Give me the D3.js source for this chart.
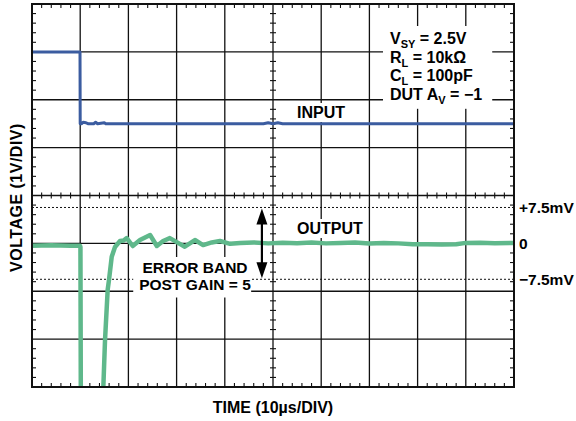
<!DOCTYPE html>
<html>
<head>
<meta charset="utf-8">
<script src="https://cdn.jsdelivr.net/npm/d3@7"></script>
<style>
  body { margin: 0; background: #fff; }
  svg { display: block; }
  text { font-family: "Liberation Sans", Arial, sans-serif; font-weight: bold; fill: #000; }
</style>
</head>
<body>
<div id="chart"></div>
<script>
// time in µs (10µs/div), input in V (1V/div), output in mV after gain (10mV/div)
const inputTime = [0, 9.96, 10.0, 10.3, 10.6, 11.2, 11.6, 12.8, 13.2, 13.6, 15.0, 15.3, 48, 49, 50, 51, 52, 100];
const inputVolts = [3.0, 3.0, 1.5, 1.5, 1.53, 1.52, 1.5, 1.5, 1.53, 1.5, 1.52, 1.5, 1.5, 1.52, 1.5, 1.52, 1.5, 1.5];

const outputTime = [
  0, 4, 8, 9.96, 10.05, 10.15, 10.4, 14.3, 14.8, 15.15, 15.7, 15.98, 16.54, 17.22, 18.26, 19.0, 19.65,
  20.9, 22.4, 24.5, 25.9, 27.2, 28.6, 30.3, 31.7, 33.8, 35.5, 37.3, 39.0, 41.1, 43.2,
  46, 49, 52, 55, 58, 61, 64, 67, 70, 73, 76, 79, 82, 85, 88, 90, 93, 96, 100,
];
const outputMv = [
  -0.5, -0.4, -0.5, -0.5, -0.8, -40, -100, -100, -30, -20.2, -9.7, -7.6, -2.8, -0.75, 0.5, 0.6, 1.1,
  -0.55, 0.7, 1.75, -0.55, 0.5, 1.1, 0.1, -0.7, 0.7, -0.35, 0.2, 0.5, -0.1, 0.1,
  0.2, 0.0, 0.15, 0.05, 0.2, 0.0, 0.1, 0.2, -0.05, 0.1, 0.0, -0.2, -0.2, -0.25, -0.2, 0.1, 0.15, 0.05, 0.1,
];

const errorBand = [7.5, 0, -7.5];
const errorBandLabels = ['+7.5mV', '0', '\u22127.5mV'];
const arrowTime = 47.7;

const notes = [
  ['V', 'SY', ' = 2.5V'],
  ['R', 'L', ' = 10k\u03A9'],
  ['C', 'L', ' = 100pF'],
  ['DUT A', 'V', ' = \u22121'],
];

const width = 576;
const height = 421;
const margin = { top: 4, right: 62, bottom: 34, left: 32 };

const x = d3.scaleLinear().domain([0, 100]).range([margin.left, width - margin.right]);
const yIn = d3.scaleLinear().domain([-4, 4]).range([height - margin.bottom, margin.top]);
const yOut = d3.scaleLinear().domain([-30, 50]).range([height - margin.bottom, margin.top]);

const svg = d3.select('#chart')
  .append('svg')
  .attr('width', width)
  .attr('height', height);

svg.append('defs').append('clipPath')
  .attr('id', 'plot-clip')
  .append('rect')
  .attr('x', x(0))
  .attr('y', yIn(4))
  .attr('width', x(100) - x(0))
  .attr('height', yIn(-4) - yIn(4));

// grid
const grid = svg.append('g').attr('stroke', '#111').attr('stroke-width', 1.3);
grid.selectAll('.v')
  .data(d3.range(10, 100, 10))
  .join('line')
  .attr('x1', (d) => x(d)).attr('x2', (d) => x(d))
  .attr('y1', yIn(4)).attr('y2', yIn(-4));
grid.selectAll('.h')
  .data(d3.range(-3, 4, 1))
  .join('line')
  .attr('x1', x(0)).attr('x2', x(100))
  .attr('y1', (d) => yIn(d)).attr('y2', (d) => yIn(d));

// minor ticks: borders point inward, centre axes cross
const ticks = svg.append('g').attr('stroke', '#111').attr('stroke-width', 1.1);
const tMinor = d3.range(2, 100, 2).filter((d) => d % 10 !== 0);
const vMinor = d3.range(-3.8, 4, 0.2).map((d) => +d.toFixed(1)).filter((d) => Math.abs(d % 1) > 0.01);
const tl = 4;
ticks.selectAll('.tt').data(tMinor).join('line')
  .attr('x1', (d) => x(d)).attr('x2', (d) => x(d))
  .attr('y1', yIn(4)).attr('y2', yIn(4) + tl);
ticks.selectAll('.tb').data(tMinor).join('line')
  .attr('x1', (d) => x(d)).attr('x2', (d) => x(d))
  .attr('y1', yIn(-4)).attr('y2', yIn(-4) - tl);
ticks.selectAll('.tc').data(tMinor).join('line')
  .attr('x1', (d) => x(d)).attr('x2', (d) => x(d))
  .attr('y1', yIn(0) - 3).attr('y2', yIn(0) + 3);
ticks.selectAll('.vl').data(vMinor).join('line')
  .attr('x1', x(0)).attr('x2', x(0) + tl)
  .attr('y1', (d) => yIn(d)).attr('y2', (d) => yIn(d));
ticks.selectAll('.vr').data(vMinor).join('line')
  .attr('x1', x(100)).attr('x2', x(100) - tl)
  .attr('y1', (d) => yIn(d)).attr('y2', (d) => yIn(d));
ticks.selectAll('.vc').data(vMinor).join('line')
  .attr('x1', x(50) - 3).attr('x2', x(50) + 3)
  .attr('y1', (d) => yIn(d)).attr('y2', (d) => yIn(d));

// error band limits
svg.append('g')
  .selectAll('line')
  .data(errorBand.filter((d) => d !== 0))
  .join('line')
  .attr('x1', x(0)).attr('x2', x(100))
  .attr('y1', (d) => yOut(d)).attr('y2', (d) => yOut(d))
  .attr('stroke', '#111')
  .attr('stroke-width', 1)
  .attr('stroke-dasharray', '2,2');

// labels inside the plot, each on a white patch
const plotLabels = svg.append('g');

function boxed(g, pad) {
  const b = g.node().getBBox();
  g.insert('rect', ':first-child')
    .attr('x', b.x - pad[3]).attr('y', b.y - pad[0])
    .attr('width', b.width + pad[1] + pad[3])
    .attr('height', b.height + pad[0] + pad[2])
    .attr('fill', '#fff');
}

const noteG = plotLabels.append('g');
const noteText = noteG.append('text').attr('font-size', 16);
notes.forEach((n, i) => {
  const line = noteText.append('tspan').attr('x', 390).attr('y', 44 + i * 18.6);
  line.append('tspan').text(n[0]);
  line.append('tspan').attr('font-size', 11).attr('dy', 4).text(n[1]);
  line.append('tspan').attr('dy', -4).text(n[2]);
});
boxed(noteG, [4, 10, 3, 7]);

const inG = plotLabels.append('g');
inG.append('text').attr('x', 297).attr('y', 118).attr('font-size', 16).text('INPUT');
boxed(inG, [1, 2, 1, 2]);

const outG = plotLabels.append('g');
outG.append('text').attr('x', 297).attr('y', 234).attr('font-size', 16).text('OUTPUT');
boxed(outG, [1, 2, 1, 2]);

const errG = plotLabels.append('g');
const errText = errG.append('text').attr('font-size', 15.5).attr('text-anchor', 'middle');
errText.append('tspan').attr('x', 195).attr('y', 273).text('ERROR BAND');
errText.append('tspan').attr('x', 195).attr('y', 289.5).text('POST GAIN = 5');
boxed(errG, [2, 0, 5, 6]);

// traces
const traces = svg.append('g').attr('clip-path', 'url(#plot-clip)');
traces.append('path')
  .datum(d3.zip(inputTime, inputVolts))
  .attr('fill', 'none')
  .attr('stroke', '#3b5ca0')
  .attr('stroke-width', 3)
  .attr('stroke-linejoin', 'round')
  .attr('d', d3.line().x((d) => x(d[0])).y((d) => yIn(d[1])));
traces.append('path')
  .datum(d3.zip(outputTime, outputMv))
  .attr('fill', 'none')
  .attr('stroke', '#5fb88b')
  .attr('stroke-width', 4.5)
  .attr('stroke-linejoin', 'round')
  .attr('d', d3.line().x((d) => x(d[0])).y((d) => yOut(d[1])));

// border
svg.append('rect')
  .attr('x', x(0)).attr('y', yIn(4))
  .attr('width', x(100) - x(0)).attr('height', yIn(-4) - yIn(4))
  .attr('fill', 'none')
  .attr('stroke', '#111')
  .attr('stroke-width', 2);

// error band arrow
const ax = x(arrowTime);
const arrow = svg.append('g').attr('fill', '#000');
arrow.append('line')
  .attr('x1', ax).attr('x2', ax)
  .attr('y1', yOut(7.5) + 8).attr('y2', yOut(-7.5) - 8)
  .attr('stroke', '#000').attr('stroke-width', 2.2);
arrow.append('path')
  .attr('d', `M${ax},${yOut(7.5) + 1}L${ax - 5.5},${yOut(7.5) + 17}L${ax + 5.5},${yOut(7.5) + 17}Z`);
arrow.append('path')
  .attr('d', `M${ax},${yOut(-7.5) - 1}L${ax - 5.5},${yOut(-7.5) - 17}L${ax + 5.5},${yOut(-7.5) - 17}Z`);

// right-hand scale for the output
svg.append('g')
  .selectAll('text')
  .data(errorBand)
  .join('text')
  .attr('x', x(100) + 5)
  .attr('y', (d) => yOut(d))
  .attr('dy', '0.36em')
  .attr('font-size', 15.5)
  .text((d, i) => errorBandLabels[i]);

// axis titles
svg.append('text')
  .attr('x', x(50))
  .attr('y', 413)
  .attr('text-anchor', 'middle')
  .attr('font-size', 16)
  .text('TIME (10\u00B5s/DIV)');

svg.append('text')
  .attr('transform', `translate(22,${yIn(0) + 2}) rotate(-90)`)
  .attr('text-anchor', 'middle')
  .attr('font-size', 16)
  .attr('letter-spacing', 0.5)
  .text('VOLTAGE (1V/DIV)');
</script>
</body>
</html>
